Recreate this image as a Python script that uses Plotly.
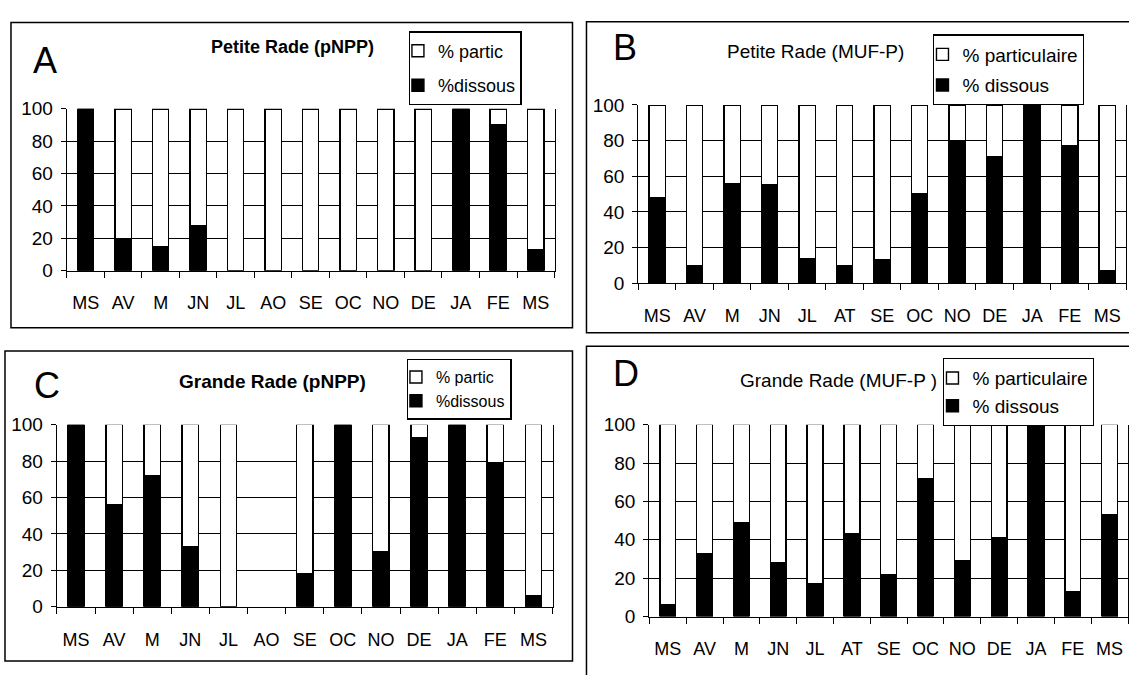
import plotly.graph_objects as go

# ---------------- data ----------------
months_pnpp = ["MS", "AV", "M", "JN", "JL", "AO", "SE", "OC", "NO", "DE", "JA", "FE", "MS"]
months_muf = ["MS", "AV", "M", "JN", "JL", "AT", "SE", "OC", "NO", "DE", "JA", "FE", "MS"]

dissous_A = [100, 20, 15, 28, 0, 0, 0, 0, 0, 0, 100, 90, 13]
partic_A = [0, 80, 85, 72, 100, 100, 100, 100, 100, 100, 0, 10, 87]

dissous_B = [48, 10, 56, 55, 14, 10, 13, 50, 80, 71, 100, 77, 7]
partic_B = [52, 90, 44, 45, 86, 90, 87, 50, 20, 29, 0, 23, 93]

dissous_C = [100, 56, 72, 33, 0, None, 18, 100, 30, 93, 100, 79, 6]
partic_C = [0, 44, 28, 67, 100, None, 82, 0, 70, 7, 0, 21, 94]

dissous_D = [6, 33, 49, 28, 17, 43, 22, 72, 29, 41, 100, 13, 53]
partic_D = [94, 67, 51, 72, 83, 57, 78, 28, 71, 59, 0, 87, 47]

yticks = [0, 20, 40, 60, 80, 100]

W, H = 1129, 675
FONT = "Liberation Sans, Arial, sans-serif"


def px(x):
    return x / W


def py(y):
    return 1 - y / H


panels = [
    dict(ax="", months=months_pnpp, d=dissous_A, p=partic_A, box=(67, 555, 102, 269),
         legend="legend", lp="% partic", ld="%dissous"),
    dict(ax="2", months=months_muf, d=dissous_B, p=partic_B, box=(639, 1127, 98, 282),
         legend="legend2", lp="% particulaire", ld="% dissous"),
    dict(ax="3", months=months_pnpp, d=dissous_C, p=partic_C, box=(57, 553, 428, 616),
         legend="legend3", lp="% partic", ld="%dissous"),
    dict(ax="4", months=months_muf, d=dissous_D, p=partic_D, box=(650, 1129, 428, 626),
         legend="legend4", lp="% particulaire", ld="% dissous"),
]

fig = go.Figure()
layout = {}
for i, pn in enumerate(panels):
    ax = pn["ax"]
    xs = list(range(len(pn["months"])))
    fig.add_trace(go.Bar(
        x=xs, y=pn["d"], name=pn["ld"], width=0.43,
        marker=dict(color="black", line=dict(color="black", width=1.4)),
        xaxis="x" + ax, yaxis="y" + ax, legend=pn["legend"],
        legendgroup="d" + str(i), legendrank=2, showlegend=True,
    ))
    fig.add_trace(go.Bar(
        x=xs, y=pn["p"], name=pn["lp"], width=0.43,
        marker=dict(color="white", line=dict(color="black", width=1.4)),
        xaxis="x" + ax, yaxis="y" + ax, legend=pn["legend"],
        legendgroup="p" + str(i), legendrank=1, showlegend=True,
    ))
    x0, x1, yt, yb = pn["box"]
    layout["xaxis" + ax] = dict(
        domain=[px(x0), px(x1)], anchor="y" + ax, range=[-0.5, len(xs) - 0.5],
        tickmode="array", tickvals=xs, ticktext=pn["months"], ticks="",
        showgrid=False, zeroline=False, showline=True, linecolor="black", linewidth=1.4,
        ticklabelstandoff=16, tickfont=dict(family=FONT, size=18, color="black"),
        minor=dict(tickmode="array", tickvals=[k - 0.5 for k in range(len(xs) + 1)],
                   ticks="outside", ticklen=6, tickcolor="black", tickwidth=1.4, showgrid=False),
        fixedrange=True,
    )
    layout["yaxis" + ax] = dict(
        domain=[py(yb), py(yt)], anchor="x" + ax, range=[0, 100],
        tickmode="array", tickvals=yticks, ticks="outside", ticklen=5, tickcolor="black",
        showgrid=True, gridcolor="black", gridwidth=1.2, zeroline=False,
        showline=True, linecolor="black", linewidth=1.4, mirror=True,
        ticklabelstandoff=4, tickfont=dict(family=FONT, size=19, color="black"),
        fixedrange=True,
    )

legend_common = dict(
    bgcolor="white", bordercolor="black", borderwidth=1.3,
    xanchor="left", yanchor="top", traceorder="grouped", indentation=-12,
)
layout["legend"] = dict(legend_common, x=px(409), y=py(22), tracegroupgap=8,
                        font=dict(family=FONT, size=18, color="black"))
layout["legend2"] = dict(legend_common, x=px(934), y=py(25), tracegroupgap=3,
                         font=dict(family=FONT, size=19, color="black"))
layout["legend3"] = dict(legend_common, x=px(407), y=py(360), tracegroupgap=0,
                         font=dict(family=FONT, size=16, color="black"))
layout["legend4"] = dict(legend_common, x=px(944), y=py(359), tracegroupgap=0,
                         font=dict(family=FONT, size=19, color="black"))

frames = [(11, 13, 573, 328), (587, 12, 1140, 333), (5, 352, 573, 672), (587, 347, 1140, 690)]
shapes = [dict(type="rect", xref="paper", yref="paper", x0=px(a), x1=px(c), y0=py(d), y1=py(b),
               line=dict(color="black", width=1.5), fillcolor="rgba(0,0,0,0)", layer="below")
          for a, b, c, d in frames]

annotations = []
for letter, xx, yy in [("A", 45, 52), ("B", 626, 39), ("C", 47, 388), ("D", 627, 375)]:
    annotations.append(dict(text=letter, x=px(xx), y=py(yy), xref="paper", yref="paper",
                            showarrow=False, xanchor="center", yanchor="middle",
                            font=dict(family=FONT, size=36, color="black")))
for title, xx, yy, bold, size in [
    ("Petite Rade (pNPP)", 293, 38, True, 18),
    ("Petite Rade (MUF-P)", 816, 43, False, 19),
    ("Grande Rade (pNPP)", 273, 383, True, 19),
    ("Grande Rade (MUF-P )", 839, 382, False, 19),
]:
    annotations.append(dict(text=("<b>%s</b>" % title) if bold else title,
                            x=px(xx), y=py(yy), xref="paper", yref="paper",
                            showarrow=False, xanchor="center", yanchor="middle",
                            font=dict(family=FONT, size=size, color="black")))

fig.update_layout(
    width=W, height=H, margin=dict(l=0, r=0, t=0, b=0),
    paper_bgcolor="white", plot_bgcolor="white",
    barmode="stack", bargap=0.5, showlegend=True,
    shapes=shapes, annotations=annotations,
    font=dict(family=FONT, color="black"),
    **layout,
)

fig.write_html("out.html", config={"displayModeBar": False},
               post_script="document.body.style.margin='0';document.body.style.overflow='hidden';")
